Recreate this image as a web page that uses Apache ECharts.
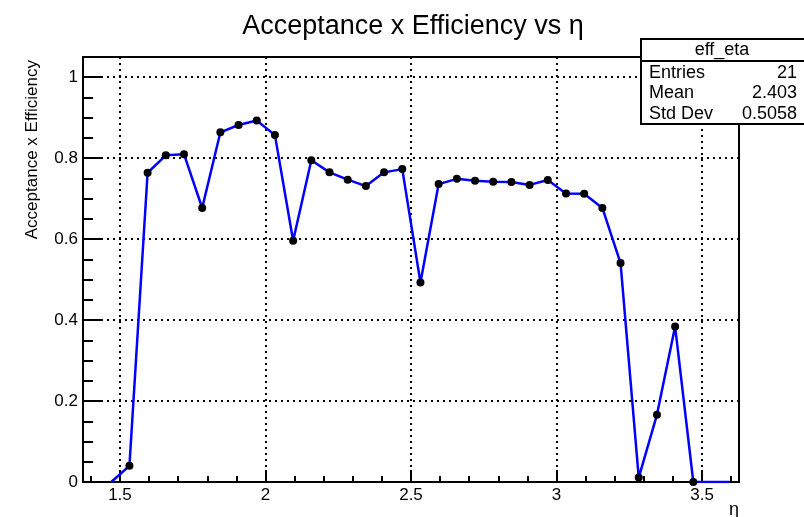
<!DOCTYPE html>
<html>
<head>
<meta charset="utf-8">
<script src="https://cdn.jsdelivr.net/npm/echarts@6/dist/echarts.min.js"></script>
<style>
  html, body { margin: 0; padding: 0; background: #fff; }
  #chart { width: 804px; height: 517px; }
</style>
</head>
<body>
<div id="chart"></div>
<script>
// eff_eta graph points
const etaValues = [1.47, 1.5325, 1.595, 1.6575, 1.72, 1.7825, 1.845, 1.9075, 1.97, 2.0325,
  2.095, 2.1575, 2.22, 2.2825, 2.345, 2.4075, 2.47, 2.5325, 2.595, 2.6575,
  2.72, 2.7825, 2.845, 2.9075, 2.97, 3.0325, 3.095, 3.1575, 3.22, 3.2825,
  3.345, 3.4075, 3.47, 3.5325, 3.595];
const effValues = [0, 0.040, 0.764, 0.807, 0.810, 0.677, 0.864, 0.882, 0.893, 0.857,
  0.596, 0.795, 0.765, 0.747, 0.731, 0.765, 0.773, 0.493, 0.736, 0.749,
  0.744, 0.742, 0.741, 0.734, 0.746, 0.713, 0.712, 0.677, 0.541, 0.011,
  0.166, 0.384, 0, 0, 0];
// points whose marker is not visible (sits under the frame)
const hiddenMarkers = [0, 33, 34];

const xMajor = [1.5, 2, 2.5, 3, 3.5];
const xMinor = [1.4, 1.6, 1.7, 1.8, 1.9, 2.1, 2.2, 2.3, 2.4, 2.6, 2.7, 2.8, 2.9, 3.1, 3.2, 3.3, 3.4, 3.6];
const yMajor = [0, 0.2, 0.4, 0.6, 0.8, 1];
const yMinor = [0.05, 0.1, 0.15, 0.25, 0.3, 0.35, 0.45, 0.5, 0.55, 0.65, 0.7, 0.75, 0.85, 0.9, 0.95];

const stats = [['Entries', '21'], ['Mean', '2.403'], ['Std Dev', '0.5058']];

const FONT = '"Liberation Sans", Arial, sans-serif';

const chart = echarts.init(document.getElementById('chart'));

const points = etaValues.map((x, i) => {
  const p = { value: [x, effValues[i]] };
  if (hiddenMarkers.indexOf(i) >= 0) p.symbol = 'none';
  return p;
});

const dotted = { color: '#000', width: 2, type: [2, 4] };
const fmt = v => String(+(+v).toFixed(2));

const statsGraphics = [];
stats.forEach((row, i) => {
  const y = 73 + i * 20.5;
  statsGraphics.push({ type: 'text', x: 649, y: y, style: { text: row[0], font: '18px ' + FONT, fill: '#000', textVerticalAlign: 'middle' } });
  statsGraphics.push({ type: 'text', x: 797, y: y, style: { text: row[1], font: '18px ' + FONT, fill: '#000', textAlign: 'right', textVerticalAlign: 'middle' } });
});

chart.setOption({
  animation: false,
  backgroundColor: '#fff',
  textStyle: { fontFamily: FONT },
  title: {
    text: 'Acceptance x Efficiency vs η',
    left: 408,
    textAlign: 'center',
    top: 8,
    textStyle: { fontSize: 27, fontWeight: 'normal', color: '#000', fontFamily: FONT }
  },
  grid: {
    left: 83, right: 65, top: 57, bottom: 35,
    show: true, borderColor: '#000', borderWidth: 2, backgroundColor: 'transparent'
  },
  xAxis: [{
    type: 'value', min: 1.373, max: 3.627, position: 'bottom',
    axisLine: { lineStyle: { color: '#000', width: 2 } },
    axisTick: { inside: true, length: 12, customValues: xMajor, lineStyle: { color: '#000', width: 2 } },
    axisLabel: { customValues: xMajor, formatter: fmt, color: '#000', fontSize: 17, margin: 5 },
    splitLine: { show: true, lineStyle: dotted }
  }, {
    type: 'value', min: 1.373, max: 3.627, position: 'bottom',
    axisLine: { show: false },
    axisTick: { inside: true, length: 6, customValues: xMinor, lineStyle: { color: '#000', width: 2 } },
    axisLabel: { show: false },
    splitLine: { show: false }
  }],
  yAxis: [{
    type: 'value', min: 0, max: 1.05, position: 'left',
    axisLine: { show: true, lineStyle: { color: '#000', width: 2 } },
    axisTick: { show: true, inside: true, length: 20, customValues: yMajor, lineStyle: { color: '#000', width: 2 } },
    axisLabel: { customValues: yMajor, formatter: fmt, color: '#000', fontSize: 17, margin: 5 },
    splitLine: { show: true, lineStyle: dotted }
  }, {
    type: 'value', min: 0, max: 1.05, position: 'left',
    axisLine: { show: false },
    axisTick: { show: true, inside: true, length: 10, customValues: yMinor, lineStyle: { color: '#000', width: 2 } },
    axisLabel: { show: false },
    splitLine: { show: false }
  }],
  series: [{
    type: 'line',
    xAxisIndex: 0, yAxisIndex: 0,
    data: points,
    symbol: 'circle', symbolSize: 8,
    itemStyle: { color: '#000' },
    lineStyle: { color: '#0000ff', width: 2.5 },
    clip: true
  }],
  graphic: [
    {
      type: 'text', x: 32, y: 60, rotation: Math.PI / 2,
      style: { text: 'Acceptance x Efficiency', font: '17px ' + FONT, fill: '#000', textAlign: 'right', textVerticalAlign: 'middle' }
    },
    {
      type: 'text', x: 734, y: 510,
      style: { text: 'η', font: '18px ' + FONT, fill: '#000', textAlign: 'center', textVerticalAlign: 'middle' }
    },
    {
      type: 'rect', shape: { x: 641, y: 39, width: 180, height: 85 },
      style: { fill: '#fff', stroke: '#000', lineWidth: 2 }, z: 100
    },
    {
      type: 'line', shape: { x1: 641, y1: 61, x2: 804, y2: 61 },
      style: { stroke: '#000', lineWidth: 2 }, z: 101
    },
    {
      type: 'text', x: 722, y: 50, z: 101,
      style: { text: 'eff_eta', font: '18px ' + FONT, fill: '#000', textAlign: 'center', textVerticalAlign: 'middle' }
    }
  ].concat(statsGraphics.map(g => Object.assign({ z: 101 }, g)))
});
</script>
</body>
</html>
